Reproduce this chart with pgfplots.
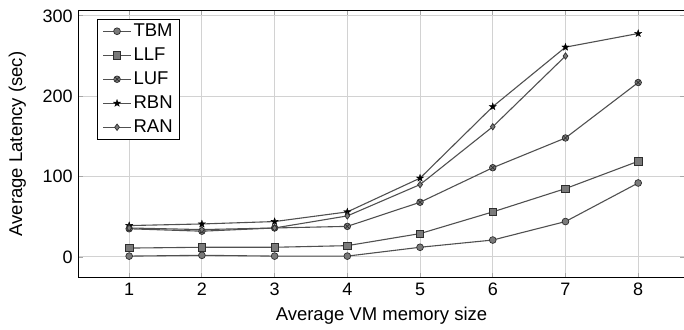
\documentclass[border=0pt]{standalone}
\usepackage{fontspec}
\setmainfont{Liberation Sans}
\usepackage{pgfplots}
\pgfplotsset{compat=1.18}
\usetikzlibrary{plotmarks}
\definecolor{lc}{HTML}{505050}
\definecolor{mf}{HTML}{7A7A7A}
\definecolor{me}{HTML}{2E2E2E}
\definecolor{gr}{HTML}{D2D2D2}
\pgfdeclareplotmark{fstar}{%
  \pgfpathmoveto{\pgfpointpolar{90}{\pgfplotmarksize}}%
  \pgfpathlineto{\pgfpointpolar{126}{0.4\pgfplotmarksize}}%
  \pgfpathlineto{\pgfpointpolar{162}{\pgfplotmarksize}}%
  \pgfpathlineto{\pgfpointpolar{198}{0.4\pgfplotmarksize}}%
  \pgfpathlineto{\pgfpointpolar{234}{\pgfplotmarksize}}%
  \pgfpathlineto{\pgfpointpolar{270}{0.4\pgfplotmarksize}}%
  \pgfpathlineto{\pgfpointpolar{306}{\pgfplotmarksize}}%
  \pgfpathlineto{\pgfpointpolar{342}{0.4\pgfplotmarksize}}%
  \pgfpathlineto{\pgfpointpolar{18}{\pgfplotmarksize}}%
  \pgfpathlineto{\pgfpointpolar{54}{0.4\pgfplotmarksize}}%
  \pgfpathclose\pgfusepathqfillstroke}
\begin{document}
\fontsize{18.5}{22}\selectfont
\begin{tikzpicture}
\begin{axis}[name=ax,
  scale only axis, width=605pt, height=266pt,
  xmin=0.31, xmax=8.63, ymin=-25, ymax=306,
  xtick={1,...,8}, ytick={0,100,200,300},
  /pgf/number format/assume math mode=true,
  ticklabel style={font=\fontsize{18}{20}\selectfont},
  label style={font=\fontsize{18.5}{22}\selectfont},
  xlabel={Average VM memory size},
  ylabel={Average Latency (sec)},
  xlabel style={yshift=2pt},
  ylabel style={yshift=4pt},
  grid=major, major grid style={gr, line width=0.9pt},
  tick align=inside, major tick length=4pt,
  tick style={gray!70, line width=0.8pt},
  axis line style={black, line width=1pt},
  every axis plot/.append style={lc, line width=1.1pt, mark options={fill=mf, draw=me, line width=0.7pt, solid}},
  legend cell align=left,
  legend style={at={(0,1)}, anchor=north west, xshift=18pt, yshift=-8pt,
     draw=black, line width=1pt, font=\fontsize{18.5}{22}\selectfont,
     row sep=4.5pt, inner xsep=5pt, inner ysep=2pt},
  legend image code/.code={\draw[line width=1.1pt, mark repeat=2, mark phase=2] plot coordinates {(0pt,0pt) (14pt,0pt) (28pt,0pt)};},
]
\addplot[mark=*, mark size=3.4pt] coordinates {(1,1) (2,2) (3,1) (4,1) (5,12) (6,21) (7,44) (8,92)};
\addlegendentry{TBM}
\addplot[mark=square*, mark size=3.7pt] coordinates {(1,11) (2,12) (3,12) (4,14) (5,29) (6,56) (7,85) (8,119)};
\addlegendentry{LLF}
\addplot[mark=otimes*, mark size=3.3pt] coordinates {(1,35) (2,32) (3,36) (4,38) (5,68) (6,111) (7,148) (8,217)};
\addlegendentry{LUF}
\addplot[mark=fstar, mark size=3.8pt, mark options={fill=black, draw=black, line width=0.3pt}] coordinates {(1,39) (2,41) (3,44) (4,56) (5,98) (6,187) (7,261) (8,278)};
\addlegendentry{RBN}
\addplot[mark=diamond*, mark size=3.2pt] coordinates {(1,36) (2,34) (3,36) (4,51) (5,90) (6,162) (7,250)};
\addlegendentry{RAN}
\end{axis}
\pgfresetboundingbox
\path[use as bounding box] ([xshift=-79pt,yshift=-52pt]ax.south west) rectangle ([xshift=0pt,yshift=11pt]ax.north east);
\end{tikzpicture}
\end{document}
